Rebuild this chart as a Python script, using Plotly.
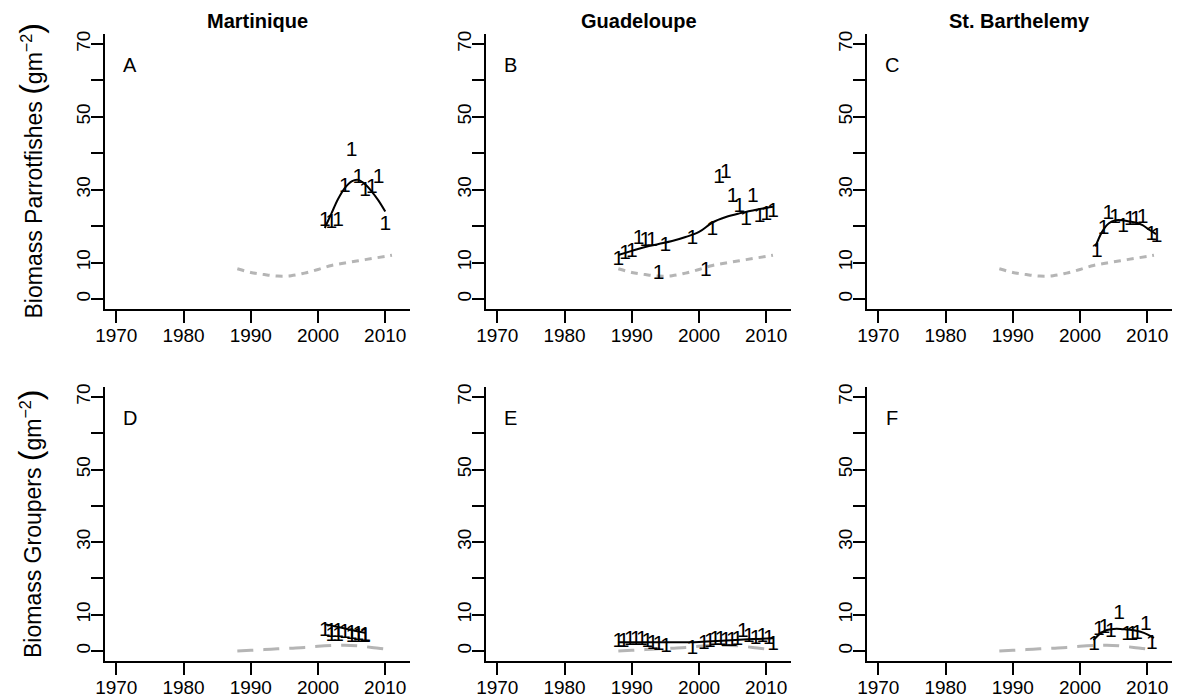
import plotly.graph_objects as go

# ---------------- data ----------------
sites = ["Martinique", "Guadeloupe", "St. Barthelemy"]
panel_letters = ["A", "B", "C", "D", "E", "F"]
row_titles = ["Biomass Parrotfishes", "Biomass Groupers"]

x_ticks = [1970, 1980, 1990, 2000, 2010]
y_tick_vals = [0, 10, 20, 30, 40, 50, 60, 70]
y_tick_text = ["0", "10", "", "30", "", "50", "", "70"]

# grey reference curves (same in each row)
ref_years = [1988, 1990, 1992, 1994, 1996, 1998, 2000, 2002, 2004, 2006, 2008, 2010, 2011]
ref_parrot = [8.3, 7.3, 6.7, 6.3, 6.4, 7.1, 8.1, 9.2, 9.9, 10.5, 11.1, 11.7, 12.0]
ref_grouper = [0.0, 0.2, 0.4, 0.6, 0.8, 1.0, 1.3, 1.5, 1.6, 1.4, 1.0, 0.6, 0.5]

# A - Martinique parrotfishes
pts_A_years = [2001, 2002, 2003, 2004, 2005, 2006, 2007, 2008, 2009, 2010]
pts_A_vals = [21.5, 20.9, 21.5, 30.8, 40.7, 33.4, 29.7, 30.5, 33.4, 20.3]
fit_A_years = [2001, 2002, 2003, 2004, 2005, 2006, 2007, 2008, 2009, 2010]
fit_A_vals = [19.5, 23.5, 27.5, 30.5, 32.3, 32.7, 31.5, 29.5, 27.0, 24.0]

# B - Guadeloupe parrotfishes
pts_B_years = [1988, 1989, 1990, 1991, 1992, 1993, 1994, 1995, 1999, 2001, 2002,
               2003, 2004, 2005, 2006, 2007, 2008, 2009, 2010, 2011]
pts_B_vals = [10.8, 12.4, 12.9, 16.5, 16.0, 16.0, 6.8, 14.5, 16.6, 7.7, 18.9,
              33.4, 34.7, 28.1, 25.3, 21.7, 28.1, 22.5, 23.0, 24.0]
fit_B_years = [1988, 1990, 1992, 1994, 1996, 1998, 2000, 2002, 2004, 2006, 2008, 2010, 2011]
fit_B_vals = [12.1, 13.2, 14.3, 15.1, 15.9, 17.0, 18.4, 21.0, 22.5, 23.5, 24.3, 25.0, 25.3]

# C - St. Barthelemy parrotfishes
pts_C_years = [2002.5, 2003.5, 2004.2, 2005.2, 2006.4, 2007.4, 2008.3, 2009.3, 2010.6, 2011.4]
pts_C_vals = [13.0, 19.4, 23.5, 22.2, 19.9, 21.7, 21.7, 22.2, 17.6, 17.0]
fit_C_years = [2002.3, 2003.3, 2004.3, 2005.3, 2006.3, 2007.3, 2008.3, 2009.3, 2010.3, 2011.3]
fit_C_vals = [14.4, 18.5, 20.8, 21.6, 21.6, 21.3, 21.0, 20.3, 19.0, 17.8]

# D - Martinique groupers
pts_D_years = [2001, 2002, 2003, 2004, 2005, 2006, 2007, 2002, 2003, 2005, 2006, 2007]
pts_D_vals = [5.7, 5.4, 5.2, 5.0, 4.7, 4.4, 4.3, 4.3, 4.1, 3.9, 3.8, 3.8]
fit_D_years = [2001, 2002, 2003, 2004, 2005, 2006, 2007]
fit_D_vals = [7.4, 7.0, 6.6, 6.2, 5.8, 5.4, 5.0]

# E - Guadeloupe groupers
pts_E_years = [1988.0, 1988.8, 1989.7, 1990.6, 1991.5, 1992.3, 1993.1, 1994.0, 1995.1,
               1999.0, 2000.7, 2001.6, 2002.4, 2003.2, 2004.0, 2004.9, 2005.7, 2006.5,
               2007.4, 2008.4, 2009.4, 2010.4, 2011.0]
pts_E_vals = [2.6, 2.6, 3.0, 3.0, 3.0, 2.6, 2.1, 1.7, 1.2,
              0.7, 2.1, 2.6, 3.0, 3.0, 2.8, 2.8, 3.0, 5.3,
              3.9, 3.5, 3.9, 3.5, 1.7]
fit_E_years = [1988, 1992, 1995, 2000, 2004, 2008, 2011]
fit_E_vals = [2.4, 2.4, 2.4, 2.5, 2.9, 3.3, 3.5]

# F - St. Barthelemy groupers
pts_F_years = [2002.1, 2002.8, 2003.6, 2004.6, 2005.8, 2007.0, 2007.8, 2008.5, 2009.8, 2010.7]
pts_F_vals = [1.7, 6.0, 6.3, 5.3, 10.4, 4.4, 4.4, 4.8, 7.2, 2.1]
fit_F_years = [2002, 2003, 2004, 2005, 2006, 2007, 2008, 2009, 2010, 2011]
fit_F_vals = [3.0, 4.8, 5.8, 6.1, 6.1, 5.9, 5.7, 5.3, 4.6, 3.6]

panels = [
    (pts_A_years, pts_A_vals, fit_A_years, fit_A_vals),
    (pts_B_years, pts_B_vals, fit_B_years, fit_B_vals),
    (pts_C_years, pts_C_vals, fit_C_years, fit_C_vals),
    (pts_D_years, pts_D_vals, fit_D_years, fit_D_vals),
    (pts_E_years, pts_E_vals, fit_E_years, fit_E_vals),
    (pts_F_years, pts_F_vals, fit_F_years, fit_F_vals),
]

# ---------------- figure ----------------
OFF = 8                      # page body margin in the browser
W, H = 1180 - OFF, 700 - OFF
FONT = "Liberation Sans, Arial, Helvetica, sans-serif"
col_px = [(105, 410), (486, 791), (867, 1172)]
row_px = [(33.8, 309.2), (386.8, 661.2)]
x_range = [1968.32, 2013.68]
y_range = [-2.8, 72.8]
grey = "#b5b5b5"


def px_x(x):
    return (x - OFF) / W


def px_y(y):
    return 1 - (y - OFF) / H


fig = go.Figure()
layout = dict(
    width=W, height=H,
    margin=dict(l=0, r=0, t=0, b=0, autoexpand=False),
    paper_bgcolor="white", plot_bgcolor="white",
    showlegend=False,
    font=dict(family=FONT, size=19, color="black"),
)
annotations = []

for i, (py, pv, fy, fv) in enumerate(panels):
    r, c = divmod(i, 3)
    n = i + 1
    xa = "x" if n == 1 else f"x{n}"
    ya = "y" if n == 1 else f"y{n}"
    xkey = "xaxis" if n == 1 else f"xaxis{n}"
    ykey = "yaxis" if n == 1 else f"yaxis{n}"
    x0, x1 = col_px[c]
    t0, t1 = row_px[r]
    layout[xkey] = dict(
        domain=[px_x(x0), min(px_x(x1), 1.0)], anchor=ya, range=x_range,
        automargin=False,
        tickmode="array", tickvals=x_ticks, ticks="outside", ticklen=12,
        tickwidth=1.5, tickcolor="black", showline=True, linewidth=1.5,
        linecolor="black", showgrid=False, zeroline=False,
        ticklabelstandoff=-4,
        tickfont=dict(family=FONT, size=19, color="black"),
    )
    layout[ykey] = dict(
        domain=[px_y(t1), px_y(t0)], anchor=xa, range=y_range, automargin=False,
        tickmode="array", tickvals=y_tick_vals, ticktext=y_tick_text,
        ticks="outside", ticklen=12, tickwidth=1.5, tickcolor="black",
        showline=True, linewidth=1.5, linecolor="black", showgrid=False,
        zeroline=False, tickangle=-90, ticklabelstandoff=-6,
        tickfont=dict(family=FONT, size=19, color="black"),
    )
    ref_vals = ref_parrot if r == 0 else ref_grouper
    fig.add_trace(go.Scatter(
        x=ref_years, y=ref_vals, mode="lines", xaxis=xa, yaxis=ya,
        line=dict(color=grey, width=3, shape="spline",
                  dash="7px,6px" if r == 0 else "16px,10px"),
        hoverinfo="skip"))
    fig.add_trace(go.Scatter(
        x=fy, y=fv, mode="lines", xaxis=xa, yaxis=ya,
        line=dict(color="black", width=2, shape="spline"), hoverinfo="skip"))
    fig.add_trace(go.Scatter(
        x=py, y=pv, mode="text", text=["1"] * len(py), xaxis=xa, yaxis=ya,
        textposition="middle center",
        textfont=dict(family=FONT, size=21, color="black")))
    annotations.append(dict(
        x=1972, y=64.3, xref=xa, yref=ya, text=panel_letters[i],
        showarrow=False, font=dict(family=FONT, size=20, color="black"),
        xanchor="center", yanchor="middle"))
    if r == 0:
        annotations.append(dict(
            x=px_x((x0 + x1) / 2), y=1.0, xref="paper", yref="paper",
            text=f"<b>{sites[c]}</b>", showarrow=False,
            font=dict(family=FONT, size=20, color="black"),
            xanchor="center", yanchor="top"))
    if c == 0:
        annotations.append(dict(
            x=px_x(30), y=px_y((t0 + t1) / 2), xref="paper", yref="paper",
            text=(f"{row_titles[r]} "
                  "<span style='font-size:32px'>(</span>gm<sup>−2</sup>"
                  "<span style='font-size:32px'>)</span>"),
            textangle=-90, showarrow=False,
            font=dict(family=FONT, size=23, color="black"),
            xanchor="center", yanchor="middle"))

layout["annotations"] = annotations
fig.update_layout(**layout)
fig.write_html("out.html")
